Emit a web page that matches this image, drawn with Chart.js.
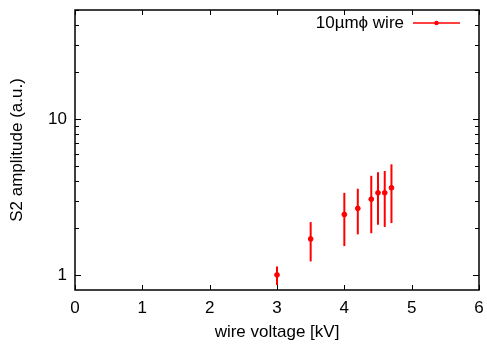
<!DOCTYPE html>
<html>
<head>
<meta charset="utf-8">
<script src="https://cdn.jsdelivr.net/npm/chart.js@4/dist/chart.umd.min.js"></script>
<style>
html,body{margin:0;padding:0;background:#fff;}
#wrap{width:487px;height:345px;position:relative;}
</style>
</head>
<body>
<div id="wrap"><canvas id="c" width="487" height="345"></canvas></div>
<script>
// Data
const voltages = [3.0, 3.5, 4.0, 4.2, 4.4, 4.5, 4.6, 4.7];
const amplitude = [1.0, 1.70, 2.44, 2.67, 3.06, 3.36, 3.36, 3.62];
const errLow = [0.86, 1.22, 1.53, 1.82, 1.85, 2.10, 2.03, 2.15];
const errHigh = [1.13, 2.18, 3.36, 3.57, 4.32, 4.55, 4.64, 5.12];
const xTicks = [0, 1, 2, 3, 4, 5, 6];
const yMajorTicks = [1, 10];
const yMinorTicks = [2, 3, 4, 5, 6, 7, 8, 9, 20, 30, 40, 50];
const seriesLabel = '10µmϕ wire';
const xTitle = 'wire voltage [kV]';
const yTitle = 'S2 amplitude (a.u.)';

const RED = '#ff0000';
const FONT = '"Liberation Sans", Arial, sans-serif';

const points = voltages.map((v, i) => ({x: v, y: amplitude[i]}));

const framePlugin = {
  id: 'frame',
  afterDatasetsDraw(chart) {
    const {ctx, chartArea: a, scales} = chart;
    const xs = scales.x, ys = scales.y;
    ctx.save();
    // error bars
    ctx.strokeStyle = RED;
    ctx.lineWidth = 2;
    voltages.forEach((v, i) => {
      const px = xs.getPixelForValue(v);
      ctx.beginPath();
      ctx.moveTo(px, ys.getPixelForValue(errLow[i]));
      ctx.lineTo(px, ys.getPixelForValue(errHigh[i]));
      ctx.stroke();
    });
    // frame
    ctx.strokeStyle = '#000';
    ctx.lineWidth = 1.5;
    ctx.strokeRect(a.left, a.top, a.right - a.left, a.bottom - a.top);
    ctx.lineWidth = 1;
    // x ticks (bottom & top, inward)
    xTicks.forEach(t => {
      const px = Math.round(xs.getPixelForValue(t)) + 0.5;
      ctx.beginPath();
      ctx.moveTo(px, a.bottom); ctx.lineTo(px, a.bottom - 5);
      ctx.moveTo(px, a.top); ctx.lineTo(px, a.top + 5);
      ctx.stroke();
    });
    // y ticks
    const yt = (t, len) => {
      const py = Math.round(ys.getPixelForValue(t)) + 0.5;
      ctx.beginPath();
      ctx.moveTo(a.left, py); ctx.lineTo(a.left + len, py);
      ctx.moveTo(a.right, py); ctx.lineTo(a.right - len, py);
      ctx.stroke();
    };
    yMajorTicks.forEach(t => yt(t, 6));
    yMinorTicks.forEach(t => yt(t, 4));
    // legend
    const ly = 23, lx1 = 413, lx2 = 460;
    ctx.fillStyle = '#000';
    ctx.font = '17px ' + FONT;
    ctx.textAlign = 'right';
    ctx.textBaseline = 'middle';
    ctx.fillText(seriesLabel, 404, ly);
    ctx.strokeStyle = RED;
    ctx.lineWidth = 1.5;
    ctx.beginPath(); ctx.moveTo(lx1, ly); ctx.lineTo(lx2, ly); ctx.stroke();
    ctx.fillStyle = RED;
    ctx.beginPath(); ctx.arc((lx1 + lx2) / 2, ly, 2.2, 0, Math.PI * 2); ctx.fill();
    ctx.restore();
  }
};

new Chart(document.getElementById('c'), {
  type: 'scatter',
  data: {
    datasets: [{
      label: seriesLabel,
      data: points,
      backgroundColor: RED,
      borderColor: RED,
      pointRadius: 2.4,
      pointHoverRadius: 2.4,
      showLine: false
    }]
  },
  options: {
    responsive: false,
    animation: false,
    events: [],
    layout: {padding: {top: 10, right: 8, left: 0, bottom: 0}},
    plugins: {legend: {display: false}, tooltip: {enabled: false}},
    scales: {
      x: {
        type: 'linear', min: 0, max: 6,
        afterBuildTicks: s => { s.ticks = xTicks.map(v => ({value: v})); },
        afterFit: s => { s.height = 55; s.paddingLeft = 0; s.paddingRight = 0; },
        grid: {display: false, drawTicks: false},
        border: {display: false},
        ticks: {color: '#000', font: {family: FONT, size: 17}, padding: 8, maxRotation: 0,
          callback: v => String(v)},
        title: {display: true, text: xTitle, color: '#000', font: {family: FONT, size: 17}, padding: {top: 0, bottom: 2}}
      },
      y: {
        type: 'logarithmic', min: 0.8, max: 50,
        afterBuildTicks: s => { s.ticks = yMajorTicks.map(v => ({value: v})); },
        afterFit: s => { s.width = 75; s.paddingTop = 0; s.paddingBottom = 0; },
        grid: {display: false, drawTicks: false},
        border: {display: false},
        ticks: {color: '#000', font: {family: FONT, size: 17}, padding: 8,
          callback: v => String(v)},
        title: {display: true, text: yTitle, color: '#000', font: {family: FONT, size: 17}, padding: {top: 7, bottom: 0}}
      }
    }
  },
  plugins: [framePlugin]
});
</script>
</body>
</html>
